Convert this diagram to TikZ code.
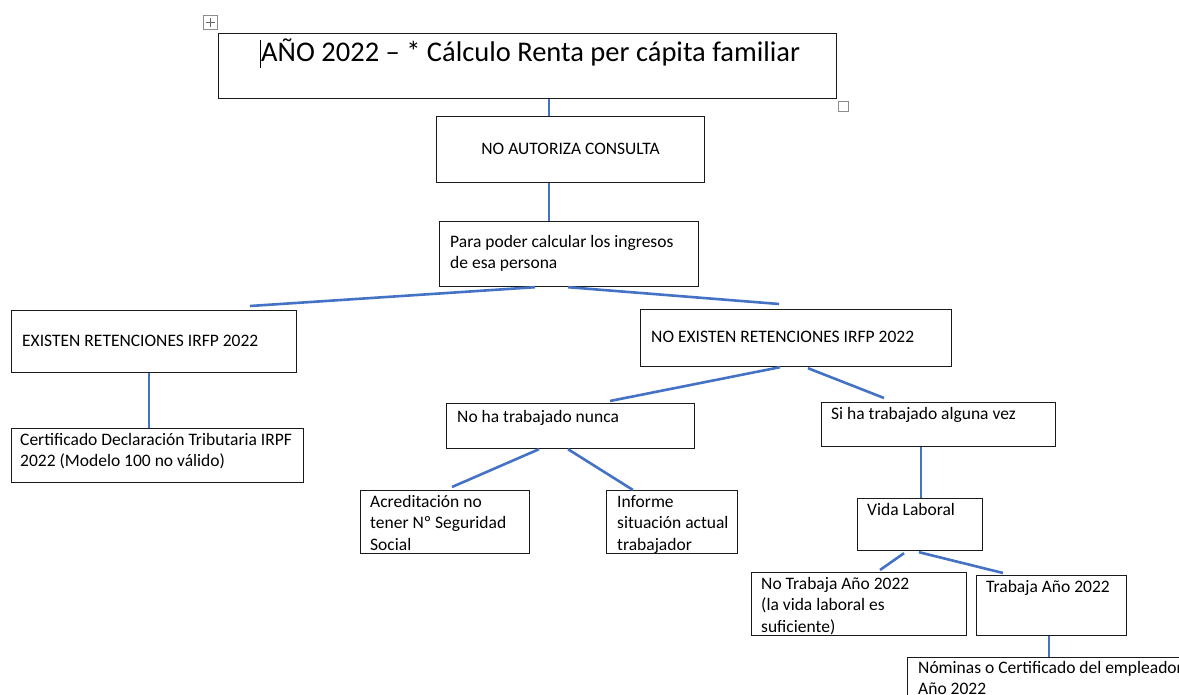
\documentclass[tikz,border=0pt]{standalone}
\usepackage{fontspec}
\setmainfont{Carlito}
\definecolor{lineblue}{HTML}{4472C4}
\definecolor{boxline}{HTML}{1A1A1A}
\newcommand{\bodyfont}{\fontsize{17.5}{21.5}\selectfont}
\tikzset{
  box/.style={draw=boxline, line width=1.2pt, inner sep=0pt, anchor=north west},
  lbl/.style={anchor=north west, inner sep=0pt, align=left, font=\bodyfont},
  conn/.style={draw=lineblue, line width=2.6pt},
  handle/.style={draw=black!45, line width=0.8pt, fill=white}
}
\begin{document}
\begin{tikzpicture}[x=1pt,y=-1pt]
\useasboundingbox (0,0) rectangle (1179,695);
\clip (0,0) rectangle (1179,695);
\fill[white] (0,0) rectangle (1179,695);

% boxes
\node[box, minimum width=618pt, minimum height=65pt] (title) at (218,33) {};
\node[box, minimum width=268pt, minimum height=66pt] (aut) at (436,116) {};
\node[font=\bodyfont, inner sep=0pt] (autl) at ([yshift=1pt]aut.center) {NO AUTORIZA CONSULTA};
\node[box, minimum width=259pt, minimum height=65pt] (para) at (439,221) {};
\node[box, minimum width=285pt, minimum height=62pt] (exist) at (11,310) {};
\node[box, minimum width=311pt, minimum height=57pt] (noex) at (640,309) {};
\node[box, minimum width=292pt, minimum height=54pt] (cert) at (11,428) {};
\node[box, minimum width=248pt, minimum height=45pt] (nunca) at (446,403) {};
\node[box, minimum width=234pt, minimum height=44pt] (siha) at (821,402) {};
\node[box, minimum width=169pt, minimum height=63pt] (acred) at (360,490) {};
\node[box, minimum width=131pt, minimum height=63pt] (inf) at (606,490) {};
\node[box, minimum width=125pt, minimum height=52pt] (vida) at (857,498) {};
\node[box, minimum width=215pt, minimum height=63pt] (notr) at (751,572) {};
\node[box, minimum width=150pt, minimum height=60pt] (tr) at (976,575) {};
\node[box, minimum width=290pt, minimum height=60pt] (nom) at (907,657) {};

% labels
\node[anchor=base west, inner sep=0pt, font=\fontsize{28.5}{34}\selectfont] (titlel) at (261,62) {AÑO 2022 – * Cálculo Renta per cápita familiar};
\node[lbl] (paral) at (450,232) {\strut Para poder calcular los ingresos\\de esa persona};
\node[lbl] (existl) at (22,331) {\strut EXISTEN RETENCIONES IRFP 2022};
\node[lbl] (noexl) at (651,327) {\strut NO EXISTEN RETENCIONES IRFP 2022};
\node[lbl] (certl) at (20,430) {\strut Certificado Declaración Tributaria IRPF\\2022 (Modelo 100 no válido)};
\node[lbl] (nuncal) at (457,407) {\strut No ha trabajado nunca};
\node[lbl] (sihal) at (831,404) {\strut Si ha trabajado alguna vez};
\node[lbl] (acredl) at (370,492) {\strut Acreditación no\\tener Nº Seguridad\\Social};
\node[lbl] (infl) at (617,492) {\strut Informe\\situación actual\\trabajador};
\node[lbl] (vidal) at (867,500) {\strut Vida Laboral};
\node[lbl] (notrl) at (761,574) {\strut No Trabaja Año 2022\\(la vida laboral es\\suficiente)};
\node[lbl] (trl) at (986,577) {\strut Trabaja Año 2022};
\node[lbl] (noml) at (918,658) {\strut Nóminas o Certificado del empleador\\Año 2022};

% text cursor
\coordinate (cur1) at (260,40);
\coordinate (cur2) at (260,68);
\draw[line width=0.9pt, black] (cur1) -- (cur2);

% editor handles
\node[handle, minimum size=14pt, inner sep=0pt, anchor=north west] (move) at (203,15) {};
\draw[black!60, line width=0.6pt] ([yshift=-3pt]move.north) -- ([yshift=3pt]move.south)
  ([xshift=3pt]move.west) -- ([xshift=-3pt]move.east);
\node[handle, minimum size=10pt, inner sep=0pt, anchor=north west] (resize) at (838,101) {};

% connectors
\draw[conn] ([xshift=331pt]title.south west) -- ([xshift=113pt]aut.north west);
\draw[conn] ([xshift=113pt]aut.south west) -- ([xshift=110pt]para.north west);
\draw[conn] ([xshift=96pt]para.south west) -- ([xshift=239pt,yshift=4pt]exist.north west);
\draw[conn] ([xshift=129pt]para.south west) -- ([xshift=139pt,yshift=5pt]noex.north west);
\draw[conn] ([xshift=138pt]exist.south west) -- ([xshift=138pt]cert.north west);
\draw[conn] ([xshift=140pt]noex.south west) -- ([xshift=164pt,yshift=2pt]nunca.north west);
\draw[conn] ([xshift=168pt,yshift=-1pt]noex.south west) -- ([xshift=63pt,yshift=4pt]siha.north west);
\draw[conn] ([xshift=93pt]nunca.south west) -- ([xshift=92pt,yshift=3pt]acred.north west);
\draw[conn] ([xshift=122pt]nunca.south west) -- ([xshift=27pt]inf.north west);
\draw[conn] ([xshift=100pt]siha.south west) -- ([xshift=64pt]vida.north west);
\draw[conn] ([xshift=47pt,yshift=-2pt]vida.south west) -- ([xshift=129pt,yshift=2pt]notr.north west);
\draw[conn] ([xshift=62pt,yshift=-1pt]vida.south west) -- ([xshift=27pt,yshift=2pt]tr.north west);
\draw[conn] ([xshift=73pt]tr.south west) -- ([xshift=142pt]nom.north west);
\end{tikzpicture}
\end{document}
